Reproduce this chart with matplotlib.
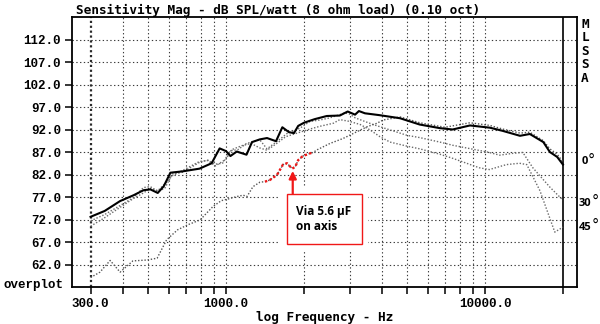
import matplotlib
matplotlib.use("Agg")
import matplotlib.pyplot as plt
from matplotlib.patches import Rectangle
from matplotlib.ticker import NullLocator, FixedLocator

# ---------------- data ----------------
# 0 degree (on axis), solid trace
freq_0 = [300, 340, 390, 440, 480, 510, 545, 575, 610, 680, 790, 880, 945, 1000,
          1040, 1100, 1200, 1260, 1350, 1440, 1560, 1650, 1750, 1830, 1900, 2000,
          2200, 2450, 2750, 2950, 3150, 3260, 3440, 3900, 4700, 5600, 6700, 7500,
          8750, 10450, 11700, 13650, 14900, 16800, 17800, 19000, 20000]
spl_0 = [72.7, 74.0, 76.2, 77.5, 78.6, 78.8, 78.0, 79.5, 82.5, 82.8, 83.4, 84.6,
         87.9, 87.3, 86.2, 87.2, 86.5, 89.3, 89.9, 90.2, 89.5, 92.6, 91.5, 91.3,
         92.9, 93.6, 94.4, 95.1, 95.2, 96.1, 95.4, 96.2, 95.7, 95.3, 94.6, 93.2,
         92.4, 92.1, 93.0, 92.5, 91.8, 90.7, 91.1, 89.3, 87.1, 86.0, 84.3]

# 30 degrees off axis
freq_30 = [300, 340, 390, 440, 480, 510, 545, 580, 620, 680, 790, 850, 910, 970,
           1040, 1110, 1200, 1350, 1440, 1570, 1720, 1930, 2110, 2300, 2520, 2750,
           2880, 3010, 3150, 3700, 4300, 5000, 5600, 6700, 7500, 10200, 11400,
           12800, 14000, 15300, 17800, 20000]
spl_30 = [71.8, 73.2, 75.2, 77.0, 79.2, 79.4, 78.4, 79.0, 82.2, 82.6, 84.8, 85.3,
          84.4, 84.6, 87.4, 87.6, 89.0, 89.8, 87.8, 89.4, 91.2, 92.4, 93.9, 94.2,
          94.7, 95.4, 95.8, 95.5, 94.7, 93.2, 92.0, 90.8, 90.3, 89.3, 88.6, 87.1,
          86.4, 86.8, 87.0, 83.6, 79.3, 76.4]

# 45 degrees off axis
freq_45 = [300, 340, 390, 440, 480, 510, 545, 580, 620, 680, 790, 850, 910, 1000,
           1050, 1150, 1250, 1350, 1440, 1570, 1700, 1930, 2110, 2300, 2600, 2750,
           3000, 3300, 3600, 3930, 4300, 5000, 5600, 6700, 7500, 9500, 10400,
           12100, 13600, 14500, 16300, 18600, 20000]
spl_45 = [70.6, 72.5, 74.8, 76.8, 78.0, 79.0, 78.5, 80.0, 81.8, 83.0, 85.0, 85.2,
          84.0, 85.5, 87.6, 88.5, 89.0, 88.0, 87.5, 89.0, 90.5, 91.5, 92.2, 92.8,
          93.5, 94.3, 93.9, 93.2, 92.0, 90.5, 89.3, 88.4, 87.8, 86.6, 85.7, 83.6,
          83.2, 84.3, 84.6, 84.3, 78.5, 69.3, 70.4]

# on axis, driven via a 5.6 uF series capacitor
freq_cap = [300, 326, 357, 390, 437, 496, 542, 590, 650, 710, 794, 891, 960, 1010,
            1100, 1165, 1205, 1271, 1353, 1414, 1479, 1573, 1660, 1720, 1800, 1850,
            1900, 1980, 2110, 2170, 2250, 2520, 2830, 3200, 3500, 3830, 4040, 4700,
            5600, 7000, 8750, 10450, 11700, 13650, 14900, 16800, 17800, 19000, 20000]
spl_cap = [59.2, 60.4, 63.0, 60.4, 62.9, 63.1, 63.5, 67.6, 69.8, 70.9, 72.0, 75.0,
           76.3, 76.6, 77.2, 77.5, 77.2, 79.4, 80.4, 80.5, 80.9, 82.0, 84.3, 84.6,
           83.4, 83.8, 85.3, 86.2, 86.8, 87.0, 87.6, 89.0, 90.1, 91.6, 92.7, 93.5,
           94.2, 94.9, 93.6, 92.6, 93.6, 93.0, 92.2, 91.3, 91.5, 89.6, 87.8, 86.6,
           84.9]

# highlighted part of the capacitor trace
hilite_lo, hilite_hi = 1414, 2170

y_grid = [62, 67, 72, 77, 82, 87, 92, 97, 102, 107, 112]
x_grid = [300, 400, 500, 600, 700, 800, 900, 1000, 2000, 3000, 4000, 5000, 6000,
          7000, 8000, 9000, 10000, 20000]
x_labels = {300: "300.0", 1000: "1000.0", 10000: "10000.0"}

angle_labels = ["0", "30", "45"]

# ---------------- figure ----------------
W, H = 600, 324
fig = plt.figure(figsize=(W / 100, H / 100), dpi=100)
fig.patch.set_facecolor("white")


def fx(px):
    return px / W


def fy(py):
    return 1 - py / H


ax = fig.add_axes([fx(72), fy(287), fx(577) - fx(72), fy(17) - fy(287)])
ax.set_xscale("log")
ax.set_xlim(254.3, 22660)
ax.set_ylim(57.1, 117.1)

grid_kw = dict(color="#3a3a3a", lw=0.8, linestyle=(0, (1.2, 2.2)), zorder=1)
for v in y_grid:
    ax.axhline(v, **grid_kw)
for f in x_grid:
    if f == 300:
        ax.axvline(f, color="#2a2a2a", lw=1.6, linestyle=(0, (1.0, 1.2)), zorder=1)
    elif f == 20000:
        ax.axvline(f, color="black", lw=1.2, zorder=4)
    else:
        ax.axvline(f, **grid_kw)

# callout box (blanks the grid behind it)
red = "#f01818"
ax.add_patch(Rectangle((1616, 65.1), 3537 - 1616, 79.6 - 65.1,
                       facecolor="white", edgecolor="none", zorder=2))
ax.add_patch(Rectangle((1720, 66.7), 3349 - 1720, 77.8 - 66.7,
                       facecolor="white", edgecolor=red, lw=1.0, zorder=3))
ax.annotate("", xy=(1810, 82.9), xytext=(1810, 77.8),
            arrowprops=dict(arrowstyle="-|>", color=red, lw=1.6,
                            mutation_scale=11, shrinkA=0, shrinkB=0), zorder=5)

# traces
dot_kw = dict(color="#6a6a6a", lw=1.0, linestyle=(0, (1.0, 1.3)), zorder=4)
ax.plot(freq_45, spl_45, **dot_kw)
ax.plot(freq_30, spl_30, **dot_kw)
ax.plot(freq_cap, spl_cap, color="#555555", lw=1.0, linestyle=(0, (1.0, 1.3)), zorder=4)
hf = [f for f in freq_cap if hilite_lo <= f <= hilite_hi]
hs = [s for f, s in zip(freq_cap, spl_cap) if hilite_lo <= f <= hilite_hi]
ax.plot(hf, hs, color=red, lw=1.7, linestyle=(0, (1.0, 1.0)), zorder=5)
ax.plot(freq_0, spl_0, color="black", lw=1.5, zorder=6)

# axes styling
for s in ax.spines.values():
    s.set_linewidth(1.3)
    s.set_color("black")

mono_small = dict(family="Liberation Mono", weight="bold", size=9)
mono_big = dict(family="DejaVu Sans Mono", weight="bold", size=9.2)

ax.xaxis.set_major_locator(FixedLocator(x_grid))
ax.xaxis.set_minor_locator(NullLocator())
ax.set_xticklabels([x_labels.get(f, "") for f in x_grid], fontdict=mono_small)
ax.set_yticks(y_grid)
ax.set_yticklabels([f"{v:.1f}" for v in y_grid], fontdict=mono_small)
ax.tick_params(axis="both", direction="out", length=5, width=1.1, color="black", pad=3)

# texts
fig.text(fx(76), fy(10), "Sensitivity Mag - dB SPL/watt (8 ohm load) (0.10 oct)",
         ha="left", va="center", **mono_big)
fig.text(fx(325), fy(317), "log Frequency - Hz", ha="center", va="center", **mono_big)
fig.text(fx(3), fy(285), "overplot", ha="left", va="center", **mono_small)
for i, ch in enumerate("MLSSA"):
    fig.text(fx(585), fy(24 + i * 13.6), ch, ha="center", va="center", **mono_big)

sans_b = dict(family="Open Sans", weight="bold")
fig.text(fx(296), fy(212), "Via 5.6 µF", ha="left", va="center", size=8.5, **sans_b)
fig.text(fx(296), fy(227), "on axis", ha="left", va="center", size=8.5, **sans_b)

# angle labels with a raised, enlarged degree ring
for lbl, (px, py) in zip(angle_labels, [(582, 162), (579, 203), (579, 227)]):
    fig.text(fx(px), fy(py), lbl, ha="left", va="center", size=8, **sans_b)
    dx = 6.1 * len(lbl)
    fig.text(fx(px + dx), fy(py - 2), "°", ha="left", va="center",
             size=10.5, family="DejaVu Sans")

fig.savefig("out.png", dpi=100, facecolor="white")
